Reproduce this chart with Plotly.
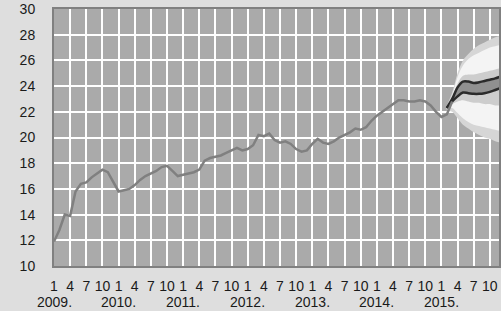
import plotly.graph_objects as go

# ---- data ----
years = [2009, 2010, 2011, 2012, 2013, 2014, 2015]
month_labels = ["1", "4", "7", "10"]

# monthly observed values, Jan 2009 .. Mar 2015
obs_values = [
    11.9, 12.8, 14.0, 13.9, 15.8, 16.4, 16.5, 16.9, 17.2, 17.5, 17.3, 16.6,
    15.8, 15.9, 16.0, 16.3, 16.7, 17.0, 17.2, 17.4, 17.7, 17.8, 17.4, 17.0,
    17.1, 17.2, 17.3, 17.5, 18.2, 18.4, 18.5, 18.6, 18.8, 19.0, 19.2, 19.0,
    19.1, 19.4, 20.2, 20.1, 20.3, 19.8, 19.6, 19.7, 19.5, 19.1, 18.9, 19.0,
    19.5, 19.9, 19.6, 19.5, 19.7, 20.0, 20.2, 20.4, 20.7, 20.6, 20.8, 21.3,
    21.7, 22.0, 22.3, 22.6, 22.9, 22.9, 22.8, 22.8, 22.9, 22.8, 22.5, 22.0,
    21.6, 21.8, 22.8,
]

# fan (forecast) months: index 73 .. 83
fc_start = 73
outer_hi = [22.5, 23.5, 25.0, 26.0, 26.5, 26.9, 27.2, 27.4, 27.6, 27.8, 27.9]
outer_lo = [22.1, 22.0, 21.5, 21.0, 20.7, 20.4, 20.2, 20.0, 19.9, 19.7, 19.6]
white_hi = [22.4, 23.3, 24.7, 25.6, 26.1, 26.4, 26.6, 26.8, 27.0, 27.1, 27.2]
white_lo = [22.2, 22.3, 21.9, 21.5, 21.2, 21.0, 20.9, 20.8, 20.7, 20.6, 20.5]
gray_hi = [22.3, 23.1, 24.2, 24.8, 24.9, 24.9, 25.0, 25.1, 25.2, 25.3, 25.4]
gray_lo = [22.3, 22.6, 22.8, 22.9, 22.8, 22.7, 22.7, 22.6, 22.6, 22.5, 22.5]
in_hi = [22.3, 23.0, 23.9, 24.35, 24.35, 24.25, 24.3, 24.4, 24.5, 24.6, 24.75]
in_lo = [22.3, 22.8, 23.2, 23.5, 23.45, 23.4, 23.4, 23.45, 23.55, 23.7, 23.85]

# ---- figure ----
x_obs = list(range(len(obs_values)))
x_fc = list(range(fc_start, fc_start + len(outer_hi)))

fig = go.Figure()


def band(lo, hi, color):
    fig.add_trace(go.Scatter(x=x_fc, y=lo, mode="lines", line=dict(width=0, color=color),
                             line_shape="spline", hoverinfo="skip", showlegend=False))
    fig.add_trace(go.Scatter(x=x_fc, y=hi, mode="lines", line=dict(width=0, color=color),
                             line_shape="spline", fill="tonexty", fillcolor=color,
                             hoverinfo="skip", showlegend=False))


band(outer_lo, outer_hi, "#d6d6d6")
band(white_lo, white_hi, "#f4f4f4")
band(gray_lo, gray_hi, "#cdcdcd")
band(in_lo, in_hi, "#909090")
for arr in (in_hi, in_lo):
    fig.add_trace(go.Scatter(x=x_fc, y=arr, mode="lines", line_shape="spline",
                             line=dict(color="#2b2b2b", width=2.5),
                             hoverinfo="skip", showlegend=False))

fig.add_trace(go.Scatter(x=x_obs, y=obs_values, mode="lines",
                         line=dict(color="#808080", width=2.5), showlegend=False))

n_months = len(years) * 12
tickvals = list(range(0, n_months, 3))
ticktext = month_labels * len(years)

for i, yr in enumerate(years):
    fig.add_annotation(x=i * 12, y=0, xref="x", yref="paper", yshift=-36,
                       text=f"{yr}.", showarrow=False, yanchor="middle",
                       font=dict(family="Liberation Sans, Arial", size=14, color="#1a1a1a"))

fig.update_layout(
    width=501, height=311,
    margin=dict(l=54, r=2, t=9, b=45, autoexpand=False),
    paper_bgcolor="#dedede",
    plot_bgcolor="#aaaaaa",
    font=dict(family="Liberation Sans, Arial", size=14, color="#1a1a1a"),
    showlegend=False,
)
fig.update_xaxes(
    range=[0, 82.7], tickmode="array", tickvals=tickvals, ticktext=ticktext,
    showgrid=True, gridcolor="#ffffff", gridwidth=2, zeroline=False,
    showline=True, linecolor="#808080", linewidth=2, mirror=True,
    ticks="outside", ticklen=6, tickcolor="rgba(0,0,0,0)", tickangle=0,
    tickfont=dict(size=14), automargin=False,
)
fig.update_yaxes(
    range=[10, 30], tickmode="linear", tick0=10, dtick=2,
    showgrid=True, gridcolor="#ffffff", gridwidth=2, zeroline=False,
    showline=True, linecolor="#808080", linewidth=2, mirror=True,
    ticks="outside", ticklen=14, tickcolor="rgba(0,0,0,0)",
    tickfont=dict(size=14), automargin=False,
)

fig.write_html("out.html", config={"displayModeBar": False},
               post_script="document.body.style.margin='0';document.body.style.overflow='hidden';")
